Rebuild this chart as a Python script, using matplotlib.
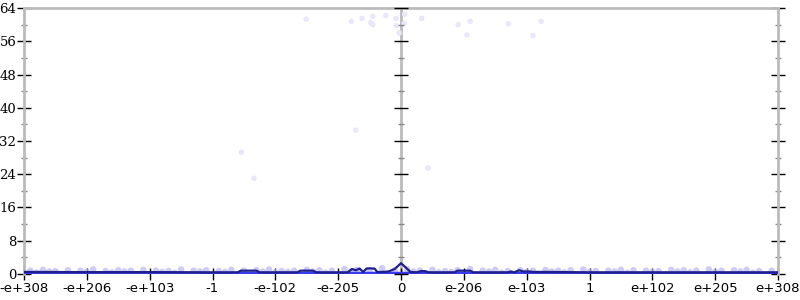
import matplotlib
matplotlib.use("Agg")
import matplotlib.pyplot as plt
from matplotlib.ticker import MultipleLocator

# etiquetas del eje x (orden de los flotantes)
etiquetas_x = ["-e+308", "-e+206", "-e+103", "-1", "-e-102", "-e-205", "0",
               "e-206", "e-103", "1", "e+102", "e+205", "e+308"]
pos_x = [-6, -5, -4, -3, -2, -1, 0, 1, 2, 3, 4, 5, 6]

# linea promedio (bits de error)
linea_x = [-6.0, -5.0, -4.0, -3.0, -2.6, -2.55, -2.3, -2.25, -1.65, -1.6, -1.4, -1.35,
           -0.85, -0.78, -0.72, -0.66, -0.6, -0.55, -0.5, -0.42, -0.38, -0.3, -0.2, -0.1,
           0.0, 0.08, 0.15, 0.25, 0.32, 0.38, 0.45, 0.5, 0.85, 0.9, 1.1, 1.15, 1.7,
           1.75, 1.8, 1.88, 1.95, 2.05, 2.1, 2.3, 3.0, 4.0, 5.0, 6.0]
linea_y = [0.5, 0.45, 0.45, 0.4, 0.4, 0.8, 0.8, 0.4, 0.4, 0.8, 0.8, 0.4,
           0.4, 1.2, 0.9, 1.3, 0.5, 1.3, 1.35, 1.3, 0.5, 0.5, 0.6, 1.2,
           2.6, 1.5, 0.5, 0.4, 0.7, 0.7, 0.4, 0.4, 0.4, 0.8, 0.8, 0.4, 0.4,
           0.6, 0.4, 0.9, 0.6, 0.6, 0.5, 0.5, 0.4, 0.4, 0.4, 0.4]

# muestras con error alto (muy tenues)
altos_x = [-1.51, -0.79, -0.62, -0.45, -0.48, -0.45, -0.24, -0.08, -0.08, -0.03,
           0.05, 0.06, 0.33, 0.91, 1.1, 1.05, 1.71, 2.1, 2.23, -0.72, -2.54, -2.34, 0.43]
altos_y = [61.3, 60.8, 61.5, 62.0, 60.5, 60.0, 62.2, 61.5, 59.8, 58.0,
           60.3, 62.5, 61.5, 60.0, 60.8, 57.5, 60.2, 57.4, 60.8, 34.6, 29.3, 23.0, 25.5]

# muestras con error bajo (banda inferior)
bajos_x = [-5.9, -5.7, -5.5, -5.3, -5.1, -4.9, -4.7, -4.5, -4.3, -4.1, -3.9, -3.7, -3.5,
           -3.3, -3.1, -2.9, -2.7, -2.5, -2.3, -2.1, -1.9, -1.7, -1.5, -1.3, -1.1, -0.9,
           -0.7, -0.5, -0.3, -0.1, 0.1, 0.3, 0.5, 0.7, 0.9, 1.1, 1.3, 1.5, 1.7, 1.9,
           2.1, 2.3, 2.5, 2.7, 2.9, 3.1, 3.3, 3.5, 3.7, 3.9, 4.1, 4.3, 4.5, 4.7, 4.9,
           5.1, 5.3, 5.5, 5.7, 5.9, -5.8, -4.6, -3.6, -2.0, -1.2, 0.6, 1.6, 2.6, 3.6, 4.6, 5.6,
           -5.6, -5.0, -4.4, -3.8, -3.2, -2.8, -2.2, -1.8, -1.4, -0.8, 0.2, 0.8, 1.4, 2.0,
           2.4, 3.0, 3.4, 4.0, 4.4, 5.0, 5.4]
bajos_y = [0.8, 1.0, 0.7, 0.9, 0.8, 1.1, 0.7, 0.9, 0.8, 1.0, 0.8, 0.7, 1.1,
           0.8, 0.9, 0.7, 1.0, 0.8, 0.9, 1.1, 0.7, 0.8, 1.0, 0.9, 0.8, 1.2,
           1.0, 0.8, 1.4, 0.9, 1.1, 0.8, 1.0, 0.7, 0.9, 1.2, 0.8, 1.0, 0.7, 0.9,
           0.8, 1.0, 0.8, 0.9, 1.1, 0.7, 0.8, 1.0, 0.9, 0.8, 0.7, 1.0, 0.9, 0.8, 1.1,
           0.8, 0.9, 1.0, 0.7, 0.8, 0.3, 0.4, 0.3, 0.4, 0.3, 0.4, 0.3, 0.4, 0.3, 0.4, 0.3,
           0.6, 0.5, 0.6, 0.5, 0.6, 0.5, 0.6, 0.5, 0.6, 0.5, 0.6, 0.5, 0.6, 0.5,
           0.6, 0.5, 0.6, 0.5, 0.6, 0.5, 0.6]

fig = plt.figure(figsize=(8, 3), dpi=100)
ax = fig.add_axes([0.03, 0.0867, 0.9425, 0.8866])

gris = "#bbbbbb"
ax.scatter(altos_x, altos_y, s=16, color="#e8e8f8", edgecolors="none", zorder=2)
ax.scatter(bajos_x, bajos_y, s=22, color="#b8b8f0", alpha=0.7, edgecolors="none", zorder=2)
ax.axhline(0.15, color="#3a3af0", lw=2.5, zorder=3)
ax.plot(linea_x, linea_y, color="#1f1f8c", lw=1.6, zorder=4)

ax.set_xlim(-6, 6)
ax.set_ylim(0, 64)

for lado in ["left", "right", "top"]:
    ax.spines[lado].set_color(gris)
    ax.spines[lado].set_linewidth(2)
ax.spines["bottom"].set_visible(False)
ax.axvline(0, color=gris, lw=2, zorder=1)

ax.yaxis.set_major_locator(MultipleLocator(8))
ax.yaxis.set_minor_locator(MultipleLocator(4))
ax.set_xticks(pos_x)
ax.set_xticklabels(etiquetas_x, fontfamily="DejaVu Sans", fontsize=9.5)
for t in ax.get_yticklabels():
    t.set_fontfamily("DejaVu Serif")
    t.set_fontsize(9.5)

ax.tick_params(axis="y", which="major", direction="inout", length=10, width=1,
               color="black", left=True, right=True, pad=0.5)
ax.tick_params(axis="y", which="minor", direction="inout", length=5, width=1,
               color="#888888", left=True, right=True)
ax.tick_params(axis="x", direction="inout", length=8, width=1, color="black", pad=2)

# marcas en la linea central
ax.plot([0] * 9, list(range(0, 65, 8)), ls="none", marker="_", ms=10, mew=1,
        color="black", clip_on=False, zorder=5)
ax.plot([0] * 8, list(range(4, 64, 8)), ls="none", marker="_", ms=5, mew=1,
        color="#888888", clip_on=False, zorder=5)

fig.savefig("out.png", dpi=100)
